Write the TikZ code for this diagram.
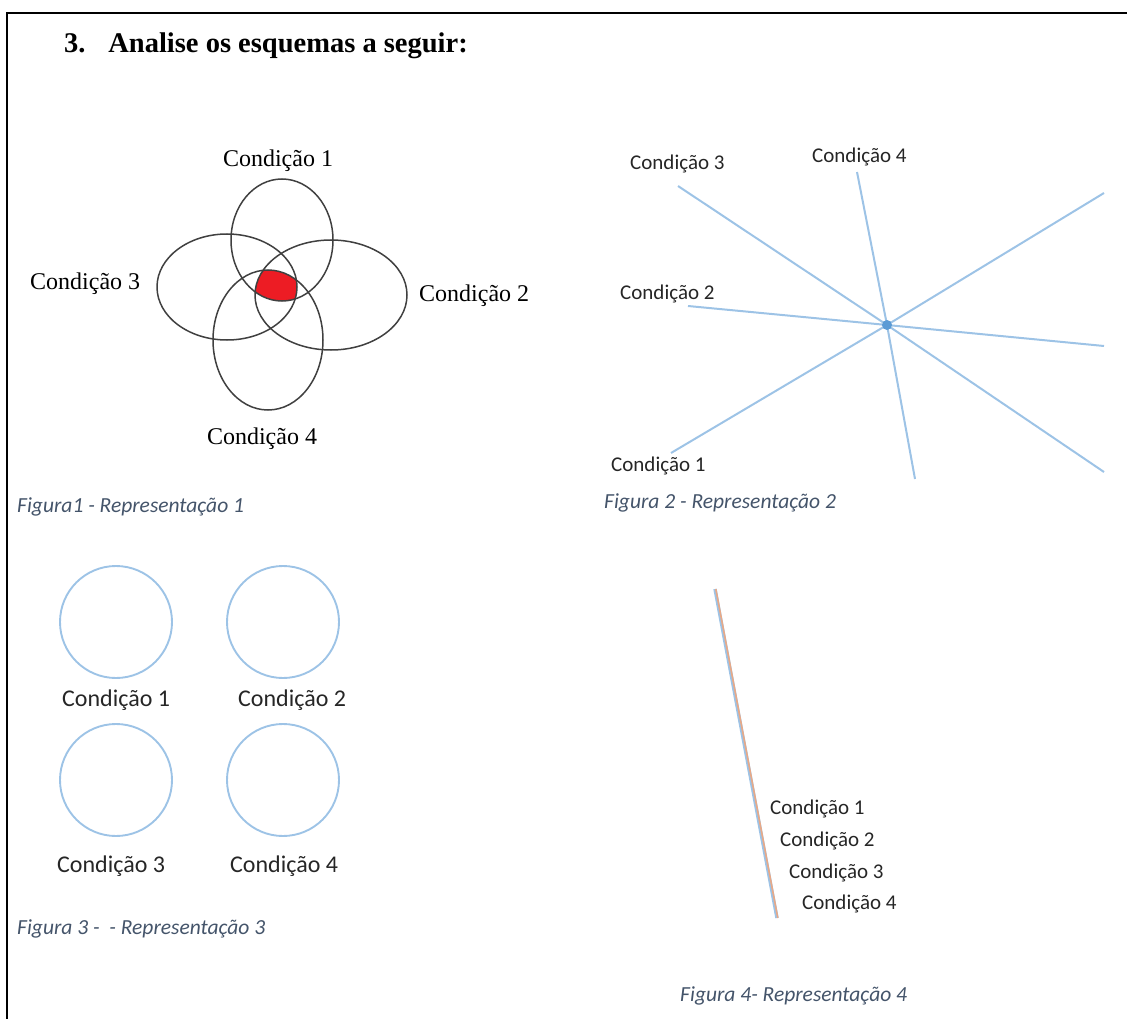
\documentclass[tikz,border=0pt]{standalone}
\usepackage{fontspec}
\setmainfont{Liberation Serif}
\newfontfamily\calibri{Carlito}
\definecolor{shapeblue}{HTML}{9DC3E6}
\definecolor{dotblue}{HTML}{5B9BD5}
\definecolor{linetan}{HTML}{E8A987}
\definecolor{captiongray}{HTML}{44546A}
\definecolor{vennred}{HTML}{ED1C24}
\definecolor{labelgray}{HTML}{262626}
\begin{document}
\begin{tikzpicture}[x=1pt,y=-1pt,
  serlabel/.style={inner sep=0pt,text=black,font=\fontsize{24}{28}\selectfont},
  callabel/.style={inner sep=0pt,text=labelgray,font=\calibri\fontsize{21}{25}\selectfont},
  biglabel/.style={inner sep=0pt,text=labelgray,font=\calibri\fontsize{24}{28}\selectfont},
  caption/.style={inner sep=0pt,anchor=west,text=captiongray,font=\calibri\itshape\fontsize{21.5}{25}\selectfont},
  vennline/.style={draw=black!75,line width=1.5pt},
  ray/.style={draw=shapeblue,line width=2pt},
  ring/.style={draw=shapeblue,line width=1.9pt}]
\useasboundingbox (0,0) rectangle (1127,1019);
% page frame (top and left rules)
\draw[line width=2.2pt] (7,1019) -- (7,13) -- (1127,13);

% heading
\node[inner sep=0pt,anchor=west,font=\bfseries\fontsize{28.5}{32}\selectfont] (title) at (64,46) {3.\hspace{0.8em}Analise os esquemas a seguir:};

% ---- Figure 1: four overlapping ellipses ----
\begin{scope}
  \clip (282,240) ellipse [x radius=51, y radius=61];
  \clip (227,287) ellipse [x radius=70, y radius=53];
  \clip (331,295) ellipse [x radius=76, y radius=55];
  \fill[vennred] (268,340) ellipse [x radius=55, y radius=70];
\end{scope}
\draw[vennline] (282,240) ellipse [x radius=51, y radius=61];
\draw[vennline] (227,287) ellipse [x radius=70, y radius=53];
\draw[vennline] (331,295) ellipse [x radius=76, y radius=55];
\draw[vennline] (268,340) ellipse [x radius=55, y radius=70];
\node[serlabel] (v1) at (278,161) {Condição 1};
\node[serlabel,anchor=west] (v3) at (30,284) {Condição 3};
\node[serlabel,anchor=west] (v2) at (419,296) {Condição 2};
\node[serlabel] (v4) at (262,439) {Condição 4};
\node[caption] (cap1) at (17,507) {Figura1 - Representação 1};

% ---- Figure 2: rays through a common point ----
\coordinate (hub) at (887,325);
\coordinate (r3) at (678,186);
\coordinate (r4) at (857,172);
\coordinate (rne) at (1104,193);
\coordinate (r2) at (688,306);
\coordinate (re) at (1104,346);
\coordinate (r1) at (671,453);
\coordinate (rs) at (915,479);
\coordinate (rse) at (1104,472);
\foreach \e in {r3,r4,rne,r2,re,r1,rs,rse} \draw[ray] (hub) -- (\e);
\fill[dotblue] (hub) circle (5);
\node[callabel,anchor=west] (s3) at (630,164) {Condição 3};
\node[callabel,anchor=west] (s4) at (812,157) {Condição 4};
\node[callabel,anchor=west] (s2) at (620,294) {Condição 2};
\node[callabel,anchor=west] (s1) at (611,466) {Condição 1};
\node[caption] (cap2) at (604,503) {Figura 2 - Representação 2};

% ---- Figure 3: four separate circles ----
\draw[ring] (116,622) circle (56);
\draw[ring] (283,622) circle (56);
\draw[ring] (116,780) circle (56);
\draw[ring] (283,780) circle (56);
\node[biglabel,anchor=west] (c1) at (62,700) {Condição 1};
\node[biglabel,anchor=west] (c2) at (238,700) {Condição 2};
\node[biglabel,anchor=west] (c3) at (57,866) {Condição 3};
\node[biglabel,anchor=west] (c4) at (230,866) {Condição 4};
\node[caption] (cap3) at (17,929) {Figura 3 -\ \ - Representação 3};

% ---- Figure 4: coincident lines ----
\coordinate (ltop) at (715,589);
\coordinate (lbot) at (777,918);
\draw[draw=shapeblue,line width=3.4pt] (ltop) -- (lbot);
\draw[draw=linetan,line width=1.6pt] ([xshift=0.8pt]ltop) -- ([xshift=0.8pt]lbot);
\node[callabel,anchor=west] (l1) at (770,809) {Condição 1};
\node[callabel,anchor=west] (l2) at (780,841) {Condição 2};
\node[callabel,anchor=west] (l3) at (789,873) {Condição 3};
\node[callabel,anchor=west] (l4) at (802,904) {Condição 4};
\node[caption] (cap4) at (680,996) {Figura 4- Representação 4};
\end{tikzpicture}
\end{document}
